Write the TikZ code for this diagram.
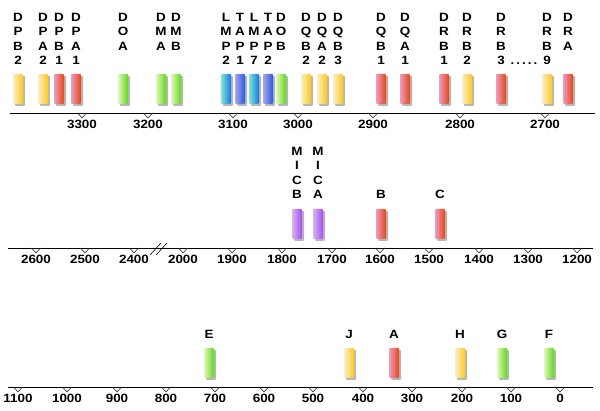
\documentclass[tikz,border=0pt]{standalone}
\usepackage{fontspec}
\setmainfont{Liberation Sans}[FakeStretch=1.12]
\usetikzlibrary{shadows}
\definecolor{yelL}{RGB}{255,238,185}
\definecolor{yelR}{RGB}{250,200,40}
\definecolor{redL}{RGB}{250,150,185}
\definecolor{redR}{RGB}{215,75,25}
\definecolor{grnL}{RGB}{220,252,175}
\definecolor{grnR}{RGB}{100,210,40}
\definecolor{cynL}{RGB}{110,235,225}
\definecolor{cynR}{RGB}{40,110,220}
\definecolor{bluL}{RGB}{165,165,242}
\definecolor{bluR}{RGB}{40,90,210}
\definecolor{purL}{RGB}{218,175,250}
\definecolor{purR}{RGB}{160,80,230}
\begin{document}
\begin{tikzpicture}[x=1pt,y=-1pt,
  bar/.style={minimum width=10pt,minimum height=30pt,inner sep=0pt,rounded corners=1pt,anchor=south,
              drop shadow={shadow xshift=2pt,shadow yshift=-2pt,opacity=.4,fill=black!70}},
  yel/.style={bar,left color=yelL,right color=yelR},
  red/.style={bar,left color=redL,right color=redR},
  grn/.style={bar,left color=grnL,right color=grnR},
  cyn/.style={bar,left color=cynL,right color=cynR},
  blu/.style={bar,left color=bluL,right color=bluR},
  pur/.style={bar,left color=purL,right color=purR},
  gname/.style={font=\fontsize{12}{14.5}\selectfont\bfseries,align=center,inner sep=0pt},
  tickl/.style={font=\fontsize{12}{14}\selectfont\bfseries,inner sep=0pt,anchor=north},
  axisln/.style={draw=black,line width=0.9pt},
  tickv/.style={draw=black!80,line width=0.6pt}
]
\useasboundingbox (0,0) rectangle (600,411);
\def\ya{113}
\def\yb{248}
\def\yc{387}

% row 1: 3300 -- 2700
\draw[axisln] (10,\ya) -- (595,\ya);
\foreach \v/\x in {3300/82,3200/148,3100/233,3000/298,2900/373,2800/460,2700/545}
  { \draw[tickv] (\x-4.5,\ya) -- (\x,\ya+5) -- (\x+4.5,\ya);
    \node[tickl] (t\v) at (\x,\ya+7) {\v}; }
\foreach \n/\x/\s/\t in {DPB2/18/yel/{D\\P\\B\\2}, DPA2/43/yel/{D\\P\\A\\2},
    DPB1/59/red/{D\\P\\B\\1}, DPA1/76/red/{D\\P\\A\\1}, DOA/123/grn/{D\\O\\A},
    DMA/161/grn/{D\\M\\A}, DMB/176/grn/{D\\M\\B}, LMP2/226/cyn/{L\\M\\P\\2},
    TAP1/240/blu/{T\\A\\P\\1}, LMP7/254/cyn/{L\\M\\P\\7}, TAP2/268/blu/{T\\A\\P\\2},
    DOB/281/grn/{D\\O\\B}, DQB2/306/yel/{D\\Q\\B\\2}, DQA2/322/yel/{D\\Q\\A\\2},
    DQB3/338/yel/{D\\Q\\B\\3}, DQB1/381/red/{D\\Q\\B\\1}, DQA1/405/red/{D\\Q\\A\\1},
    DRB1/444/red/{D\\R\\B\\1}, DRB2/467/yel/{D\\R\\B\\2}, DRB3/501/red/{D\\R\\B\\3},
    DRB9/547/yel/{D\\R\\B\\9}, DRA/568/red/{D\\R\\A}}
  { \node[\s] (\n) at (\x,\ya-9) {};
    \node[gname,anchor=north] (\n-lab) at (\x,13) {\t}; }
\node[gname,anchor=base] (dots) at (524,65) {.\hspace{2pt}.\hspace{2pt}.\hspace{2pt}.\hspace{2pt}.};

% row 2: 2600 -- 1200
\draw[axisln] (8,\yb) -- (593,\yb);
\foreach \v/\x in {2600/36,2500/85,2400/134,2000/183,1900/232,1800/282,
                   1700/332,1600/380,1500/429,1400/479,1300/528,1200/577}
  { \draw[tickv] (\x-4.5,\yb) -- (\x,\yb+5) -- (\x+4.5,\yb);
    \node[tickl] (t\v) at (\x,\yb+7) {\v}; }
\draw[line width=0.6pt] (150,255) -- (161,243);
\draw[line width=0.6pt] (156,255) -- (167,243);
\foreach \n/\x/\s/\t in {MICB/297/pur/{M\\I\\C\\B}, MICA/318/pur/{M\\I\\C\\A},
    B/381/red/B, C/440/red/C}
  { \node[\s] (\n) at (\x,\yb-9) {};
    \node[gname,anchor=south] (\n-lab) at (\x,199) {\t}; }

% row 3: 1100 -- 0
\draw[axisln] (8,\yc) -- (593,\yc);
\foreach \v/\x in {1100/18,1000/67,900/117,800/166,700/215,600/264,
                   500/313,400/363,300/412,200/462,100/511,0/560}
  { \draw[tickv] (\x-4.5,\yc) -- (\x,\yc+5) -- (\x+4.5,\yc);
    \node[tickl] (t\v) at (\x,\yc+7) {\v}; }
\foreach \n/\x/\s/\t in {E/209/grn/E, J/349/yel/J, A/394/red/A,
    H/460/yel/H, G/502/grn/G, F/549/grn/F}
  { \node[\s] (\n) at (\x,\yc-9) {};
    \node[gname,anchor=south] (\n-lab) at (\x,339) {\t}; }
\end{tikzpicture}
\end{document}
